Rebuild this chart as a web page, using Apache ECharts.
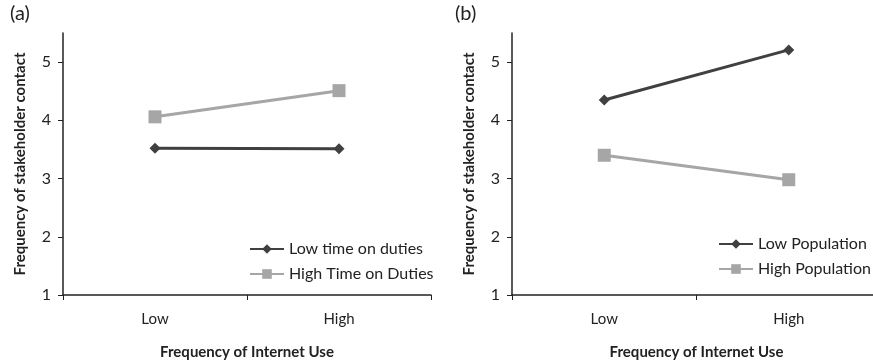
<!DOCTYPE html>
<html>
<head>
<meta charset="utf-8">
<script src="https://cdn.jsdelivr.net/npm/echarts@6/dist/echarts.min.js"></script>
<style>
  html, body { margin: 0; padding: 0; background: #fff; overflow: hidden; }
  #main { width: 873px; height: 362px; }
</style>
</head>
<body>
<div id="main"></div>
<script>
// data
var categories = ['Low', 'High'];
var yTicks = [1, 2, 3, 4, 5];

var lowTimeOnDuties = [3.52, 3.51];
var highTimeOnDuties = [4.06, 4.51];
var lowPopulation = [4.35, 5.21];
var highPopulation = [3.40, 2.98];

var dark = '#404040';
var light = '#a6a6a6';
var font = 'Lato';

var myChart = echarts.init(document.getElementById('main'));

function xAxis(idx) {
  return {
    type: 'category',
    gridIndex: idx,
    data: categories,
    boundaryGap: true,
    name: 'Frequency of Internet Use',
    nameLocation: 'middle',
    nameGap: 50,
    nameTextStyle: { fontFamily: font, fontWeight: 'bold', fontSize: 15, color: '#222' },
    axisLine: { lineStyle: { color: '#222', width: 1.5 } },
    axisTick: { show: true, length: 5, lineStyle: { color: '#222' } },
    axisLabel: { fontFamily: font, fontSize: 15, color: '#222', margin: 17 }
  };
}

function yAxis(idx) {
  return {
    type: 'value',
    gridIndex: idx,
    min: 1,
    max: 5.5,
    interval: 1,
    name: 'Frequency of stakeholder contact',
    nameLocation: 'middle',
    nameGap: 35,
    nameTextStyle: { fontFamily: font, fontWeight: 'bold', fontSize: 15, color: '#222' },
    splitLine: { show: false },
    axisLine: { show: true, lineStyle: { color: '#222', width: 1.5 } },
    axisTick: { show: true, length: 5, customValues: yTicks, lineStyle: { color: '#222' } },
    axisLabel: { fontFamily: font, fontSize: 16, color: '#222', margin: 12, customValues: yTicks }
  };
}

function series(name, idx, values, color, symbol, size) {
  return {
    name: name,
    type: 'line',
    xAxisIndex: idx,
    yAxisIndex: idx,
    data: values,
    symbol: symbol,
    symbolSize: size,
    lineStyle: { color: color, width: 3 },
    itemStyle: { color: color },
    animation: false
  };
}

myChart.setOption({
  title: [
    { text: '(a)', left: 10, top: 4, padding: 0, textStyle: { fontFamily: font, fontWeight: 'normal', fontSize: 20, color: '#222' } },
    { text: '(b)', left: 455, top: 4, padding: 0, textStyle: { fontFamily: font, fontWeight: 'normal', fontSize: 20, color: '#222' } }
  ],
  grid: [
    { left: 63, right: 442, top: 33, bottom: 67, outerBoundsMode: 'none' },
    { left: 512, right: -8, top: 33, bottom: 67, outerBoundsMode: 'none' }
  ],
  legend: [
    {
      orient: 'vertical', left: 249, top: 241, padding: 0, itemGap: 9, itemWidth: 34, itemHeight: 12,
      textStyle: { fontFamily: font, fontSize: 16, color: '#222' },
      data: ['Low time on duties', 'High Time on Duties']
    },
    {
      orient: 'vertical', left: 718, top: 236, padding: 0, itemGap: 9, itemWidth: 34, itemHeight: 12,
      textStyle: { fontFamily: font, fontSize: 16, color: '#222' },
      data: ['Low Population', 'High Population']
    }
  ],
  xAxis: [xAxis(0), xAxis(1)],
  yAxis: [yAxis(0), yAxis(1)],
  series: [
    series('Low time on duties', 0, lowTimeOnDuties, dark, 'diamond', 11),
    series('High Time on Duties', 0, highTimeOnDuties, light, 'rect', 13),
    series('Low Population', 1, lowPopulation, dark, 'diamond', 11),
    series('High Population', 1, highPopulation, light, 'rect', 13)
  ]
});
</script>
</body>
</html>
